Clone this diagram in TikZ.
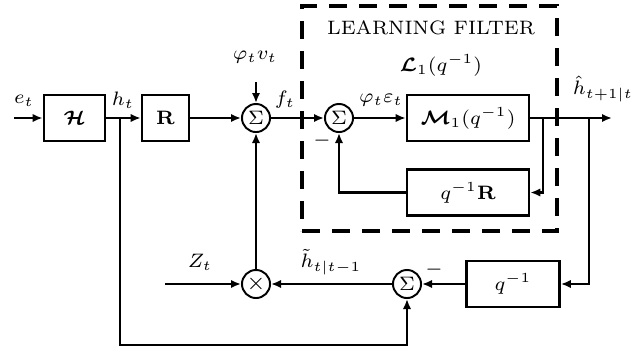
\documentclass[tikz,border=0pt]{standalone}
\usepackage{amsmath,amssymb,bm}
\usepackage{tikz}
\usetikzlibrary{arrows.meta}

\begin{document}
\begin{tikzpicture}[
  x=0.36pt, y=-0.36pt,
  font=\fontsize{7}{8.4}\selectfont,
  line width=0.85pt,
  blk/.style={draw, line width=0.95pt, minimum height=16.6pt, inner sep=1pt},
  sumc/.style={draw, circle, line width=0.7pt, minimum size=10.1pt, inner sep=0pt,
    font=\fontsize{7}{8}\selectfont},
  filt/.style={draw, line width=1.5pt, dash pattern=on 6.5pt off 4.3pt,
    minimum width=91.8pt, minimum height=81pt},
  sig/.style={inner sep=0.5pt},
  arr/.style={-{Latex[length=3.6pt,width=3pt]}},
  ]
  \useasboundingbox (0,0) rectangle (641,350);
  % learning filter frame
  \node[filt] (lf) at (429.5,118.5) {};
  \node[sig] (lftitle) at (431,28) {LEARNING FILTER};
  \node[sig] (lfname) at (441,65) {$\bm{\mathcal{L}}_1(q^{-1})$};
  % blocks
  \node[blk, minimum width=22pt] (H) at (74.5,118) {$\bm{\mathcal{H}}$};
  \node[blk, minimum width=16.9pt] (R) at (165.5,118) {$\mathbf{R}$};
  \node[sumc] (S1) at (256,118) {$\Sigma$};
  \node[sumc] (S2) at (339,118) {$\Sigma$};
  \node[blk, minimum width=43.9pt] (M) at (468,118) {$\bm{\mathcal{M}}_1(q^{-1})$};
  \node[blk, minimum width=43.9pt] (qR) at (468,192.5) {$q^{-1}\mathbf{R}$};
  \node[blk, minimum width=33.5pt] (Q) at (513,284) {$q^{-1}$};
  \node[sumc] (S3) at (407,284) {$\Sigma$};
  \node[sumc, font=\fontsize{8}{9}\selectfont] (X) at (256,284) {$\times$};
  % free ends and branch points
  \coordinate (ein) at (14,118);
  \coordinate (phin) at (256,82);
  \coordinate (zin) at (165,284);
  \coordinate (hout) at (612,118);
  \coordinate (b0) at (120,118);
  \coordinate (b1) at (543,118);
  \coordinate (b2) at (589,118);
  \coordinate (bot) at (120,345);
  % signal labels
  \node[sig] (et) at (24,101) {$e_t$};
  \node[sig] (ht) at (123,100) {$h_t$};
  \node[sig] (pv) at (255,57) {$\varphi_t v_t$};
  \node[sig] (ft) at (285,100) {$f_t$};
  \node[sig] (pe) at (381,100) {$\varphi_t\varepsilon_t$};
  \node[sig] (hh) at (603,89) {$\hat{h}_{t+1|t}$};
  \node[sig] (zt) at (200,262) {$Z_t$};
  \node[sig] (htil) at (331,262) {$\tilde{h}_{t|t-1}$};
  \node[sig] (m2) at (322,141) {$-$};
  \node[sig] (m3) at (434,270) {$-$};
  % connectors
  \draw[arr] (ein) -- (H);
  \draw[arr] (H) -- (R);
  \draw[arr] (R) -- (S1);
  \draw[arr] (phin) -- (S1);
  \draw[arr] (S1) -- (S2);
  \draw[arr] (S2) -- (M);
  \draw[arr] (M) -- (hout);
  \draw[arr] (b1) |- (qR);
  \draw[arr] (qR) -| (S2);
  \draw[arr] (b2) |- (Q);
  \draw[arr] (Q) -- (S3);
  \draw[arr] (S3) -- (X);
  \draw[arr] (zin) -- (X);
  \draw[arr] (X) -- (S1);
  \draw[arr] (b0) -- (bot) -| (S3);
\end{tikzpicture}
\end{document}
